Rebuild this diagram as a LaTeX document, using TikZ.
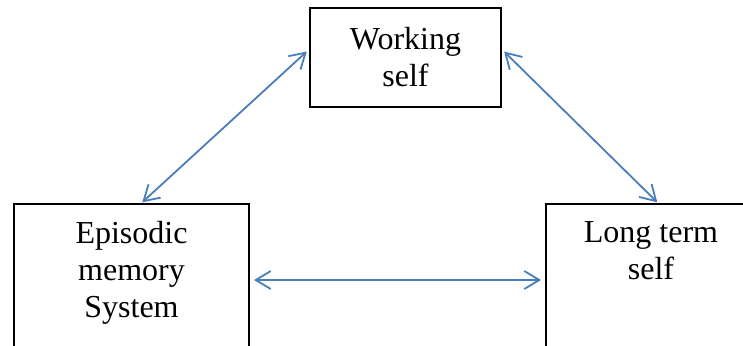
\documentclass[tikz,border=0pt]{standalone}
\usepackage{fontspec}
\setmainfont{Liberation Serif}
\usetikzlibrary{positioning}
\usetikzlibrary{arrows.meta}
\definecolor{linkblue}{RGB}{74,126,187}
\tikzset{%
    selfbox/.style={%
        draw,%
        line width=2pt,%
        inner sep=0pt%
    },%
    boxtext/.style={%
        align=center,%
        inner sep=0pt,%
        font=\fontsize{32}{37}\selectfont%
    },%
    link/.style={%
        draw=linkblue,%
        line width=1.8pt,%
        {Straight Barb[length=15pt,width=18pt]}-{Straight Barb[length=15pt,width=18pt]}%
    }%
}

\begin{document}
\begin{tikzpicture}[x=1pt,y=1pt]
    \useasboundingbox (0,0) rectangle (743,-345);
    \node[selfbox, boxtext, minimum width=191pt, minimum height=98pt] (working) at (405.5,-57.5) {Working\\self};
    \node[selfbox, minimum width=235pt, minimum height=152pt, anchor=north west] (episodic) at (13,-203) {};
    \node[boxtext, below=18pt of episodic.north] (episodictext) {Episodic\\memory\\System};
    \node[selfbox, minimum width=210pt, minimum height=152pt, anchor=north west] (longterm) at (545,-203) {};
    \node[boxtext, below=18pt of longterm.north] (longtermtext) {Long term\\self};
    \draw[link, shorten <=3pt, shorten >=1pt] ([yshift=8pt]working.west) -- ([xshift=10pt]episodic.north);
    \draw[link, shorten <=3pt, shorten >=1pt] ([yshift=8pt]working.east) -- ([xshift=7pt]longterm.north);
    \draw[link, shorten <=4pt, shorten >=4pt] (episodic.east) -- (longterm.west);
\end{tikzpicture}
\end{document}
